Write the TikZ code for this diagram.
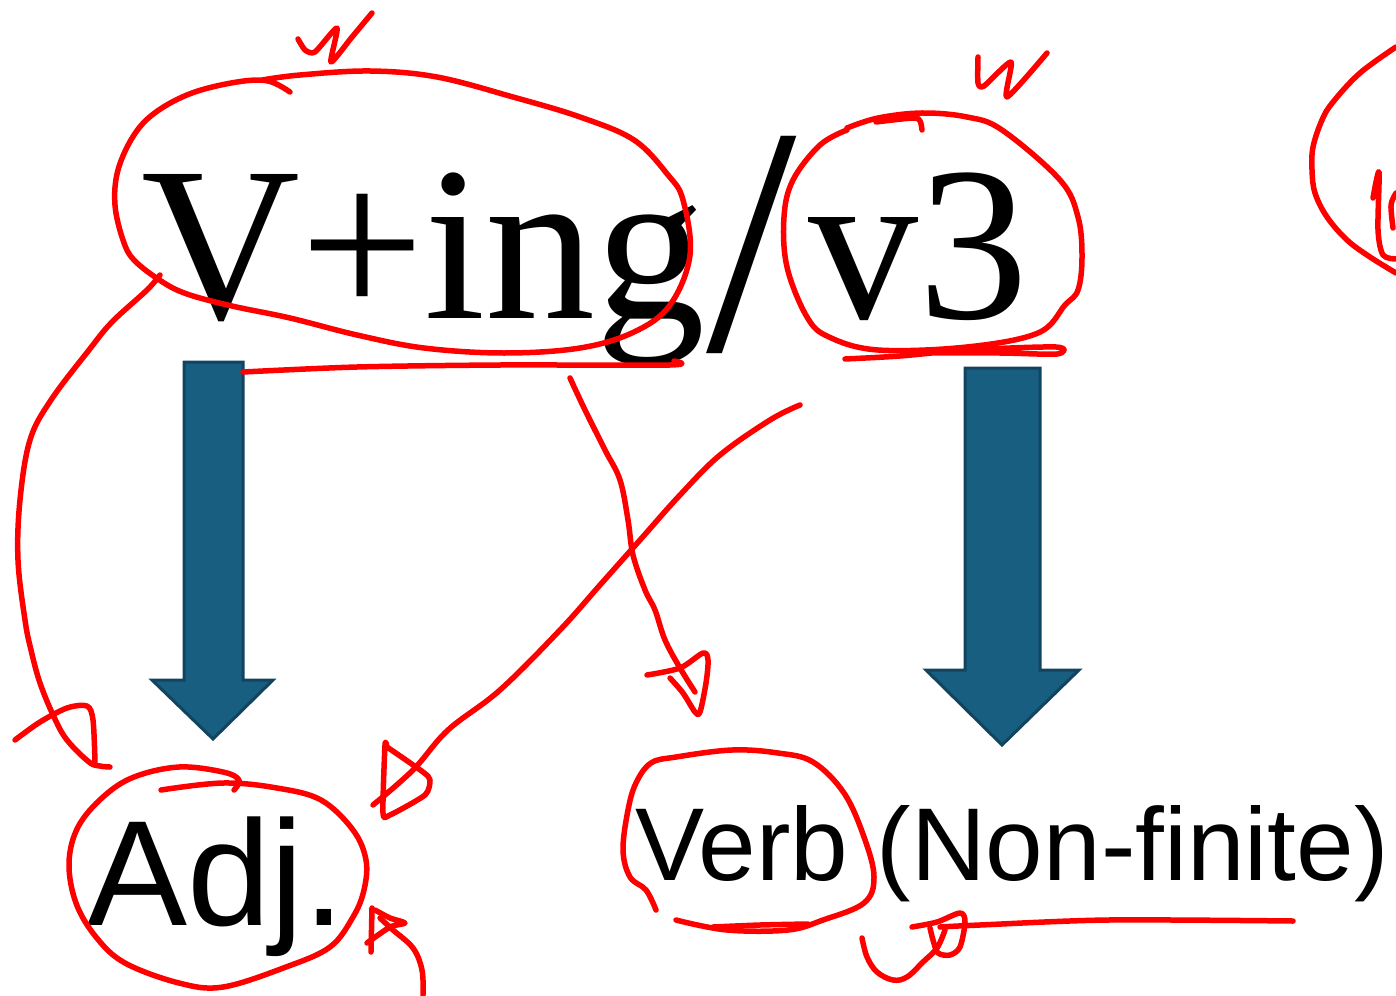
\documentclass[tikz,border=0pt]{standalone}
\usepackage{fontspec}
\newfontfamily\serifF{Liberation Serif}
\newfontfamily\sansF{Liberation Sans}
\definecolor{arrowblue}{RGB}{24,94,128}
\definecolor{arrowedge}{RGB}{18,68,96}
\definecolor{ink}{RGB}{255,0,0}
\tikzset{
  redink/.style={draw=ink, line width=5.5pt, line cap=round, line join=round},
  blockarrow/.style={fill=arrowblue, draw=arrowedge, line width=3pt, line join=miter},
  bigserif/.style={anchor=base west, inner sep=0pt, font=\serifF\fontsize{220}{220}\selectfont},
  sanslabel/.style={anchor=base west, inner sep=0pt},
}
\begin{document}
\begin{tikzpicture}[x=1pt,y=-1pt]
\useasboundingbox[fill=white] (0,0) rectangle (1396,995);

% texts
\node[bigserif] (ving) at (141,318) {V+ing};
\node[anchor=base west, inner sep=0pt, font=\serifF\fontsize{325}{325}\selectfont] (slash) at (706,350) {/};
\node[bigserif] (vthree) at (808,318) {v3};
\node[sanslabel, font=\sansF\fontsize{150}{150}\selectfont] (adj) at (87,925) {Adj.};
\node[sanslabel, font=\sansF\fontsize{103.5}{103.5}\selectfont] (verb) at (635,880) {Verb (Non-finite)};

% block arrows
\path[blockarrow] (184,362) -- (243,362) -- (243,680) -- (273,680) -- (213,739) -- (152,680) -- (184,680) -- cycle;
\path[blockarrow] (965,368) -- (1040,368) -- (1040,670) -- (1079,670) -- (1002,745) -- (926,670) -- (965,670) -- cycle;

% red annotations
% ellipse around V+ing
\draw[redink] plot[smooth, tension=0.6] coordinates {(290,92) (268,81) (237,82) (192,93) (156,112) (134,135) (118,170) (115,205) (123,240) (134,260) (161,281) (187,294) (232,306) (290,318) (357,335) (424,348) (504,353) (580,348) (634,332) (670,305) (690,255) (683,200) (668,175) (634,140) (580,117) (513,97) (437,77) (370,71) (300,75) (262,80)};
% w above V+ing
\draw[redink] plot[smooth, tension=0.4] coordinates {(298,39) (305,50) (315,52) (337,28) (331,62) (352,37) (372,13)};
% left arc to Adj
\draw[redink] plot[smooth, tension=0.6] coordinates {(160,275) (147,290) (112,322) (89,350) (51,400) (30,440) (20,500) (18,560) (25,620) (31,650) (40,683) (54,717) (67,740) (89,762) (100,766) (110,767)};
\draw[redink] plot[smooth, tension=0.5] coordinates {(15,740) (40,722) (67,708) (87,706) (93,720) (95,762)};
% underline under V+ing
\draw[redink] plot[smooth, tension=0.5] coordinates {(243,372) (357,367) (500,365) (670,365) (674,361)};
% circle around v3
\draw[redink] plot[smooth, tension=0.5] coordinates {(922,130) (920,121) (913,118) (876,122)};
\draw[redink] plot[smooth, tension=0.6] coordinates {(847,130) (820,145) (793,180) (784,217) (787,267) (807,317) (829,337) (878,350) (967,347) (1038,333) (1065,305) (1078,290) (1082,257) (1078,217) (1060,180) (1002,130) (967,117) (922,113) (878,118) (847,128)};
% underline under v3
\draw[redink] plot[smooth, tension=0.5] coordinates {(845,359) (900,356) (967,350) (1056,347) (1057,354) (1000,353) (920,353)};
% w above v3
\draw[redink] plot[smooth, tension=0.4] coordinates {(978,57) (978,83) (984,86) (1011,62) (1007,97) (1047,53)};
% partial circle at right edge
\draw[redink] plot[smooth, tension=0.6] coordinates {(1396,47) (1360,73) (1333,102) (1322,120) (1313,147) (1312,170) (1315,193) (1327,217) (1347,240) (1370,257) (1396,273)};
\draw[redink] plot[smooth, tension=0.5] coordinates {(1373,198) (1379,172) (1378,230) (1383,255) (1396,259)};
\draw[redink] plot[smooth, tension=0.5] coordinates {(1396,193) (1391,205) (1393,228)};
% line to Verb
\draw[redink] plot[smooth, tension=0.6] coordinates {(570,378) (585,410) (605,450) (620,480) (628,520) (633,555) (645,590) (655,610) (665,640) (680,668) (695,692)};
\draw[redink] plot[smooth, tension=0.5] coordinates {(647,675) (680,668) (703,653) (708,660) (706,683) (700,712) (695,712) (683,693) (670,678)};
% line to Adj from v3
\draw[redink] plot[smooth, tension=0.6] coordinates {(800,405) (770,420) (720,455) (680,495) (640,540) (600,585) (560,630) (500,690) (448,730) (413,770) (373,805)};
\draw[redink] plot[smooth, tension=0.4] coordinates {(387,747) (385,745) (383,813) (390,815) (425,795) (430,780) (423,772) (387,747)};
% circle around Adj.
\draw[redink] plot[smooth, tension=0.6] coordinates {(161,790) (223,783) (277,788) (321,800) (353,830) (366,860) (364,890) (353,917) (330,947) (286,967) (223,987) (179,983) (125,963) (96,937) (76,903) (69,863) (78,827) (103,797) (134,777) (179,767) (223,772) (239,780) (234,790)};
% arrow up to Adj.
\draw[redink] plot[smooth, tension=0.6] coordinates {(423,995) (422,970) (413,948) (393,930) (380,918)};
\draw[redink] plot[smooth, tension=0.4] coordinates {(372,908) (371,952)};
\draw[redink] plot[smooth, tension=0.4] coordinates {(367,943) (390,927) (405,923) (390,918) (375,910)};
% circle around Verb
\draw[redink] plot[smooth, tension=0.6] coordinates {(656,910) (646,890) (630,877) (623,850) (628,810) (636,783) (651,763) (676,757) (732,750) (778,753) (813,762) (844,793) (864,837) (874,877) (864,903) (823,920) (788,930) (727,930) (676,920)};
\draw[redink] plot[smooth, tension=0.5] coordinates {(713,927) (760,925) (808,924)};
% hook and underline under (Non-finite)
\draw[redink] plot[smooth, tension=0.6] coordinates {(862,938) (867,957) (877,972) (893,980) (907,977) (923,962) (937,948) (945,930)};
\draw[redink] plot[smooth, tension=0.5] coordinates {(912,927) (937,922) (960,913) (965,922) (960,947) (950,955) (938,953) (933,940) (930,928)};
\draw[redink] plot[smooth, tension=0.5] coordinates {(940,927) (980,925) (1108,920) (1293,921)};
\end{tikzpicture}
\end{document}
